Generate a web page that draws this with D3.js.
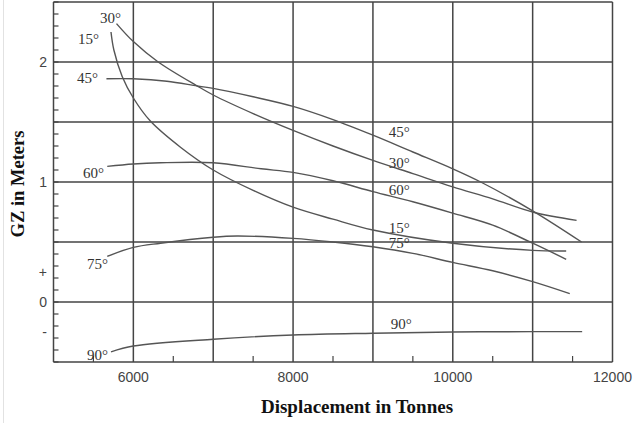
<!DOCTYPE html>
<html>
<head>
<meta charset="utf-8">
<script src="https://cdn.jsdelivr.net/npm/d3@7"></script>
<style>
  html, body { margin: 0; padding: 0; background: #fff; }
  svg { display: block; }
</style>
</head>
<body>
<svg id="chart" width="642" height="423"></svg>
<script>
// ---- data (Displacement in tonnes, GZ in metres) ----
const curve15 = [[5720,2.25],[5756,2.10],[5860,1.88],[6000,1.70],[6210,1.51],[6590,1.29],[7000,1.10],[7500,0.93],[8000,0.79],[8500,0.69],[9000,0.60],[10000,0.49],[11000,0.43],[11420,0.425]];
const curve30 = [[5789,2.32],[6000,2.17],[6311,2.00],[6800,1.80],[7000,1.725],[7500,1.57],[8000,1.43],[8500,1.30],[9000,1.18],[9500,1.07],[10000,0.96],[10500,0.86],[11000,0.75],[11550,0.68]];
const curve45 = [[5663,1.86],[6000,1.86],[6420,1.84],[6800,1.80],[7000,1.78],[7500,1.71],[8000,1.63],[8500,1.52],[9000,1.39],[9500,1.25],[10000,1.11],[10350,1.00],[11000,0.76],[11613,0.50]];
const curve60 = [[5673,1.13],[6000,1.15],[6340,1.16],[7000,1.16],[7600,1.11],[8000,1.08],[8500,1.01],[9000,0.92],[9500,0.835],[10000,0.74],[10500,0.64],[11000,0.49],[11420,0.356]];
const curve75 = [[5673,0.38],[6000,0.455],[6340,0.49],[7000,0.54],[7300,0.55],[8000,0.53],[8500,0.50],[9000,0.46],[9500,0.405],[10000,0.33],[10500,0.26],[11000,0.17],[11465,0.07]];
const curve90 = [[5720,-0.415],[6000,-0.367],[7000,-0.31],[8000,-0.275],[9000,-0.26],[10000,-0.25],[11000,-0.247],[11620,-0.247]];
const curves = [curve15, curve30, curve45, curve60, curve75, curve90];

// curve labels: text, displacement, GZ (anchor in data units)
const labelTexts = ["30°","15°","45°","60°","75°","90°","45°","30°","60°","15°","75°","90°"];
const labelX = [5583,5307,5295,5370,5420,5420,9197,9197,9197,9197,9197,9222];
const labelY = [2.325,2.15,1.825,1.033,0.275,-0.483,1.375,1.117,0.892,0.575,0.45,-0.225];

const xMajorTicks = [6000,7000,8000,9000,10000,11000,12000];
const xLabelTicks = [6000,8000,10000,12000];
const xMinorTicks = [5500,6500,7500,8500,9500,10500,11500];
const yGridTicks = [-0.5,0,0.5,1,1.5,2,2.5];
const yTickValues = [2,1,0.25,0,-0.25];
const yTickLabels = ["2","1","+","0","-"];
const yMinorTicks = d3.range(-5,26).map(d => d/10);

const xTitle = "Displacement in Tonnes";
const yTitle = "GZ in Meters";

// ---- drawing ----
const svg = d3.select("#chart");
const x = d3.scaleLinear().domain([5000,12000]).range([53.5,612.5]);
const y = d3.scaleLinear().domain([-0.5,2.5]).range([362,2]);

// faint outer frame line on the left
svg.append("line").attr("x1",3.5).attr("x2",3.5).attr("y1",0).attr("y2",423)
  .attr("stroke","#e2e2e2").attr("stroke-width",1);

const grid = svg.append("g").attr("stroke","#444").attr("stroke-width",1.5);
grid.selectAll("line.v").data(xMajorTicks).join("line")
  .attr("x1",d=>x(d)).attr("x2",d=>x(d)).attr("y1",y(2.5)).attr("y2",y(-0.5));
grid.selectAll("line.h").data(yGridTicks).join("line")
  .attr("x1",x(5000)).attr("x2",x(12000)).attr("y1",d=>y(d)).attr("y2",d=>y(d));
// left axis
grid.append("line").attr("x1",x(5000)).attr("x2",x(5000)).attr("y1",y(2.5)).attr("y2",y(-0.5));

// minor ticks
const ticks = svg.append("g").attr("stroke","#444").attr("stroke-width",1.2);
ticks.selectAll("line.ym").data(yMinorTicks).join("line")
  .attr("x1",x(5000)).attr("x2",x(5000)+5).attr("y1",d=>y(d)).attr("y2",d=>y(d));
ticks.selectAll("line.xm").data(xMinorTicks).join("line")
  .attr("x1",d=>x(d)).attr("x2",d=>x(d)).attr("y1",y(-0.5)).attr("y2",y(-0.5)-6);

// tick labels
svg.append("g").selectAll("text").data(xLabelTicks).join("text")
  .attr("x",d=>x(d)).attr("y",382).attr("text-anchor","middle")
  .attr("font-family","Liberation Sans, Arial, sans-serif").attr("font-size",14)
  .attr("fill","#444").text(d=>d);
svg.append("g").selectAll("text").data(yTickValues).join("text")
  .attr("x",47).attr("y",d=>y(d)).attr("dy","0.35em").attr("text-anchor","end")
  .attr("font-family","Liberation Sans, Arial, sans-serif").attr("font-size",14)
  .attr("fill","#444").text((d,i)=>yTickLabels[i]);

// curves
const line = d3.line().x(d=>x(d[0])).y(d=>y(d[1])).curve(d3.curveCatmullRom.alpha(0.5));
svg.append("g").selectAll("path").data(curves).join("path")
  .attr("d",line).attr("fill","none").attr("stroke","#555").attr("stroke-width",1.4);

// curve labels
svg.append("g").selectAll("text").data(labelTexts).join("text")
  .attr("x",(d,i)=>x(labelX[i])).attr("y",(d,i)=>y(labelY[i]))
  .attr("font-family","Liberation Serif, Times New Roman, serif").attr("font-size",15)
  .attr("fill","#333").text(d=>d);

// axis titles
svg.append("text").attr("x",357).attr("y",413).attr("text-anchor","middle")
  .attr("font-family","Liberation Serif, Times New Roman, serif").attr("font-weight","bold")
  .attr("font-size",19).attr("fill","#111").text(xTitle);
svg.append("text").attr("transform","translate(24,184) rotate(-90)").attr("text-anchor","middle")
  .attr("font-family","Liberation Serif, Times New Roman, serif").attr("font-weight","bold")
  .attr("font-size",18.5).attr("fill","#111").text(yTitle);
</script>
</body>
</html>
